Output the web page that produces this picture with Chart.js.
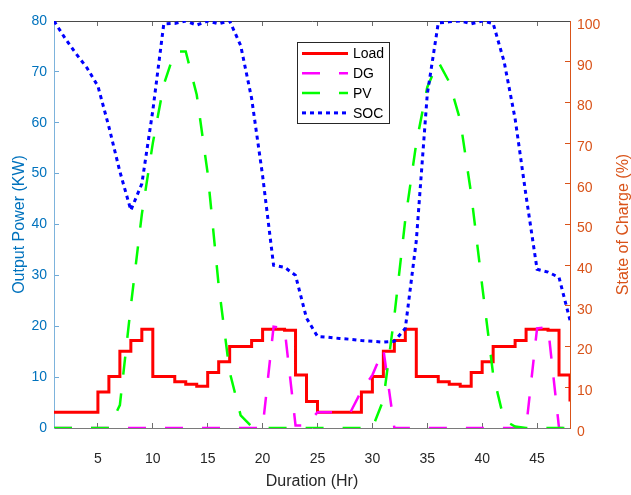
<!DOCTYPE html>
<html>
<head>
<meta charset="utf-8">
<script src="https://cdn.jsdelivr.net/npm/chart.js@4.4.1/dist/chart.umd.min.js"></script>
<style>
  html, body { margin: 0; padding: 0; background: #fff; }
  canvas { display: block; }
</style>
</head>
<body>
<canvas id="energyChart" width="631" height="495"></canvas>
<script>
const hours = [1, 2, 3, 4, 5, 6, 7, 8, 9, 10, 11, 12, 13, 14, 15, 16, 17, 18, 19, 20, 21, 22, 23, 24,
  25, 26, 27, 28, 29, 30, 31, 32, 33, 34, 35, 36, 37, 38, 39, 40, 41, 42, 43, 44, 45, 46, 47, 48];

// load demand (KW), drawn as stairs
const loadKw = [3.1, 3.1, 3.1, 3.1, 7.1, 10.1, 15.1, 17.2, 19.4, 10.1, 10.1, 9.1, 8.6, 8.2, 10.9, 13, 16, 16, 17.2, 19.4, 19.4, 19.2, 10.4, 5.2,
  3.1, 3.1, 3.1, 3.1, 7.1, 10.1, 15.1, 17.2, 19.4, 10.1, 10.1, 9.1, 8.6, 8.2, 10.9, 13, 16, 16, 17.2, 19.4, 19.4, 19.2, 10.4, 5.2];

const dgKw = [0, 0, 0, 0, 0, 0, 0, 0, 0, 0, 0, 0, 0, 0, 0, 0, 0, 0, 0, 0, 19.9, 19.6, 0.5, 0.5,
  3.1, 3.1, 3.1, 3.1, 7.3, 10.4, 15.5, 0, 0, 0, 0, 0, 0, 0, 0, 0, 0, 0, 0, 0, 19.6, 19.8, 0, 0];

const pvKw = [0, 0, 0, 0, 0, 0, 4.5, 24, 42, 56, 67.5, 74, 74, 65.5, 50, 28, 11, 2.5, 0.3, 0, 0, 0, 0, 0,
  0, 0, 0, 0, 0, 0, 5.5, 22, 41, 56, 67, 72, 68, 60.5, 46, 28, 10.5, 1.5, 0.3, 0, 0, 0, 0, 0];

// state of charge (%), right axis
const socPct = [100, 95.8, 92, 88.5, 84, 74, 63, 53.5, 60, 78, 99.3, 99.4, 100, 99, 100, 99.3, 100, 94, 81, 62, 40, 39.5, 37.5, 27,
  22.5, 22.3, 22, 21.8, 21.5, 21.3, 21.1, 21.3, 24.5, 46, 82, 99.5, 99.8, 100, 99.3, 100, 99.4, 90, 76, 57, 39, 38.3, 37, 26.5];

const xTicks = [5, 10, 15, 20, 25, 30, 35, 40, 45];
const powerTicks = [0, 10, 20, 30, 40, 50, 60, 70, 80];
const socTicks = [0, 10, 20, 30, 40, 50, 60, 70, 80, 90, 100];

const FONT = '"Liberation Sans", Arial, Helvetica, sans-serif';
const BLUE_AXIS = '#0072BD';
const ORANGE_AXIS = '#D95319';
const DARK = '#262626';

function toPoints(values) {
  return hours.map((h, i) => ({ x: h, y: values[i] }));
}

function fixedTicks(list) {
  return scale => { scale.ticks = list.map(v => ({ value: v })); };
}

// right axis title reads bottom-to-top like the left one
const rightTitle = {
  id: 'rightTitle',
  afterDraw(chart) {
    const ctx = chart.ctx;
    const area = chart.chartArea;
    ctx.save();
    ctx.translate(624, (area.top + area.bottom) / 2);
    ctx.rotate(-Math.PI / 2);
    ctx.font = '16px ' + FONT;
    ctx.fillStyle = ORANGE_AXIS;
    ctx.textAlign = 'center';
    ctx.textBaseline = 'middle';
    ctx.fillText('State of Charge (%)', 0, 0);
    ctx.restore();
  }
};

// boxed legend inside the plot
const boxLegend = {
  id: 'boxLegend',
  afterDraw(chart) {
    const ctx = chart.ctx;
    const left = 297, top = 42, width = 92, height = 81;
    ctx.save();
    ctx.fillStyle = '#fff';
    ctx.fillRect(left, top, width, height);
    ctx.strokeStyle = DARK;
    ctx.lineWidth = 1;
    ctx.strokeRect(left + 0.5, top + 0.5, width, height);
    chart.data.datasets.forEach((ds, i) => {
      const y = top + 11.5 + i * 19.8;
      ctx.beginPath();
      ctx.setLineDash(ds.borderDash || []);
      ctx.strokeStyle = ds.borderColor;
      ctx.lineWidth = ds.borderWidth;
      ctx.moveTo(left + 5, y);
      ctx.lineTo(left + 51, y);
      ctx.stroke();
      ctx.setLineDash([]);
      ctx.fillStyle = '#000';
      ctx.font = '14px ' + FONT;
      ctx.textBaseline = 'middle';
      ctx.fillText(ds.label, left + 56, y + 1);
    });
    ctx.restore();
  }
};

new Chart(document.getElementById('energyChart'), {
  type: 'line',
  data: {
    datasets: [
      {
        label: 'Load',
        data: toPoints(loadKw),
        yAxisID: 'y',
        borderColor: '#FF0000',
        borderWidth: 3,
        stepped: true,
        pointRadius: 0,
        order: 4
      },
      {
        label: 'DG',
        data: toPoints(dgKw),
        yAxisID: 'y',
        borderColor: '#FF00FF',
        borderWidth: 2.5,
        borderDash: [18, 19],
        pointRadius: 0,
        order: 3
      },
      {
        label: 'PV',
        data: toPoints(pvKw),
        yAxisID: 'y',
        borderColor: '#00FF00',
        borderWidth: 2.5,
        borderDash: [18, 19],
        pointRadius: 0,
        order: 2
      },
      {
        label: 'SOC',
        data: toPoints(socPct),
        yAxisID: 'y2',
        borderColor: '#0000FF',
        borderWidth: 3,
        borderDash: [4, 4],
        pointRadius: 0,
        order: 1
      }
    ]
  },
  options: {
    responsive: false,
    animation: false,
    devicePixelRatio: 1,
    layout: { padding: 0 },
    plugins: {
      legend: { display: false },
      tooltip: { enabled: false }
    },
    scales: {
      x: {
        type: 'linear',
        position: 'bottom',
        min: 1,
        max: 48,
        afterBuildTicks: fixedTicks(xTicks),
        afterFit: s => { s.height = 67; },
        grid: { drawOnChartArea: false, color: '#6E6E6E', tickLength: -5 },
        border: { color: '#7A7A7A' },
        ticks: { color: DARK, font: { family: FONT, size: 14 }, padding: 28, maxRotation: 0, autoSkip: false },
        title: { display: true, text: 'Duration (Hr)', color: DARK, font: { family: FONT, size: 16 }, padding: { top: 0, bottom: 4 } }
      },
      xTop: {
        type: 'linear',
        position: 'top',
        min: 1,
        max: 48,
        afterBuildTicks: fixedTicks(xTicks),
        afterFit: s => { s.height = 21; },
        grid: { drawOnChartArea: false, color: '#6E6E6E', tickLength: -5 },
        border: { color: '#4A4A4A' },
        ticks: { display: false }
      },
      y: {
        position: 'left',
        min: 0,
        max: 80,
        afterBuildTicks: fixedTicks(powerTicks),
        afterFit: s => { s.width = 54; },
        grid: { drawOnChartArea: false, color: '#6FA9D6', tickLength: -5 },
        border: { color: '#7DB3DC' },
        ticks: { color: BLUE_AXIS, font: { family: FONT, size: 14 }, padding: 12 },
        title: { display: true, text: 'Output Power (KW)', color: BLUE_AXIS, font: { family: FONT, size: 16 }, padding: { top: 10, bottom: 0 } }
      },
      y2: {
        position: 'right',
        min: 0,
        max: 100,
        afterBuildTicks: fixedTicks(socTicks),
        afterFit: s => { s.width = 61; },
        grid: { drawOnChartArea: false, color: ORANGE_AXIS, tickLength: -5 },
        border: { color: ORANGE_AXIS },
        ticks: { color: ORANGE_AXIS, font: { family: FONT, size: 14 }, padding: 12, labelOffset: 4 }
      }
    }
  },
  plugins: [rightTitle, boxLegend]
});
</script>
</body>
</html>
